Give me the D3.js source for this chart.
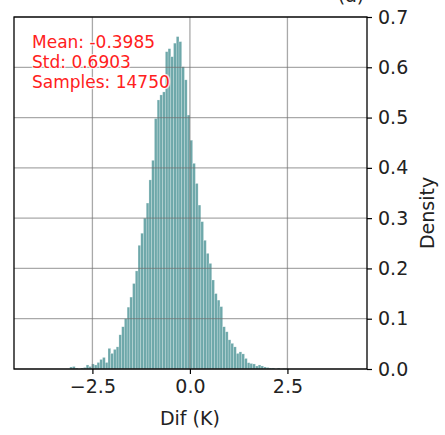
<!DOCTYPE html>
<html>
<head>
<meta charset="utf-8">
<style>
  body { margin: 0; background: #fff; }
  text { font-family: "DejaVu Sans", sans-serif; }
</style>
</head>
<body>
<svg width="445" height="435"></svg>
<script src="https://d3js.org/d3.v7.min.js"></script>
<script>
    // histogram bins (left edge of first bin, width) and densities
    var binStart = -3.08;
    var binWidth = 0.07;
    var densities = [
        0.004, 0.005, 0.002, 0.000, 0.002, 0.003, 0.008, 0.005, 0.010, 0.008,
        0.013, 0.019, 0.023, 0.013, 0.041, 0.031, 0.039, 0.044, 0.068, 0.084,
        0.100, 0.123, 0.143, 0.170, 0.195, 0.246, 0.270, 0.300, 0.330, 0.376,
        0.415, 0.498, 0.535, 0.545, 0.551, 0.631, 0.637, 0.621, 0.648, 0.661,
        0.651, 0.601, 0.575, 0.505, 0.455, 0.409, 0.369, 0.326, 0.293, 0.256,
        0.230, 0.210, 0.177, 0.150, 0.137, 0.124, 0.084, 0.074, 0.058, 0.051,
        0.044, 0.031, 0.034, 0.030, 0.021, 0.0125, 0.011, 0.010, 0.006, 0.008,
        0.006, 0.004, 0.003, 0.002, 0.002, 0.000, 0.002, 0.000, 0.001, 0.001
    ];
    var xTicks = [-2.5, 0, 2.5];
    var yTicks = [0, 0.1, 0.2, 0.3, 0.4, 0.5, 0.6, 0.7];
    var statLines = ["Mean: -0.3985", "Std: 0.6903", "Samples: 14750"];

    var svg = d3.select("svg"),
        margin = {top: 17, right: 78, bottom: 66, left: 14},
        width = +svg.attr("width") - margin.left - margin.right,
        height = +svg.attr("height") - margin.top - margin.bottom;

    var bins = densities.map(function (d, i) {
        return {x0: binStart + i * binWidth, x1: binStart + (i + 1) * binWidth, density: d};
    });

    var x = d3.scaleLinear().domain([-4.51, 4.54]).range([0, width]);
    var y = d3.scaleLinear().domain([0, 0.7]).range([height, 0]);

    var g = svg.append("g").attr("transform", "translate(" + margin.left + "," + margin.top + ")");

    // bars
    g.selectAll("rect.bar")
        .data(bins)
        .enter().append("rect")
        .attr("class", "bar")
        .attr("x", function (d) { return x(d.x0); })
        .attr("y", function (d) { return y(d.density); })
        .attr("width", function (d) { return x(d.x1) - x(d.x0); })
        .attr("height", function (d) { return y(0) - y(d.density); })
        .attr("fill", "#5a9c9e")
        .attr("fill-opacity", 0.88)
        .attr("stroke", "#ffffff")
        .attr("stroke-opacity", 0.45)
        .attr("stroke-width", 0.5);

    // grid on top
    g.selectAll("line.vgrid")
        .data(xTicks)
        .enter().append("line")
        .attr("class", "vgrid")
        .attr("x1", function (d) { return x(d); })
        .attr("x2", function (d) { return x(d); })
        .attr("y1", 0)
        .attr("y2", height)
        .attr("stroke", "#707070")
        .attr("stroke-opacity", 0.6)
        .attr("stroke-width", 1.3);

    g.selectAll("line.hgrid")
        .data(yTicks)
        .enter().append("line")
        .attr("class", "hgrid")
        .attr("x1", 0)
        .attr("x2", width)
        .attr("y1", function (d) { return y(d); })
        .attr("y2", function (d) { return y(d); })
        .attr("stroke", "#707070")
        .attr("stroke-opacity", 0.6)
        .attr("stroke-width", 1.3);

    // axes
    var xAxis = g.append("g")
        .attr("transform", "translate(0," + height + ")")
        .call(d3.axisBottom(x).tickValues(xTicks).tickSize(5).tickPadding(6)
            .tickFormat(function (d) { return d3.format(".1f")(d).replace("-", "\u2212"); }));
    xAxis.select(".domain").remove();
    xAxis.selectAll("line").attr("stroke", "#000").attr("stroke-width", 1.2);
    xAxis.selectAll("text").attr("font-size", 19).attr("fill", "#222")
        .attr("font-family", "DejaVu Sans");

    var yAxis = g.append("g")
        .attr("transform", "translate(" + width + ",0)")
        .call(d3.axisRight(y).tickValues(yTicks).tickSize(5).tickPadding(6)
            .tickFormat(d3.format(".1f")));
    yAxis.select(".domain").remove();
    yAxis.selectAll("line").attr("stroke", "#000").attr("stroke-width", 1.2);
    yAxis.selectAll("text").attr("font-size", 19).attr("fill", "#222")
        .attr("font-family", "DejaVu Sans");

    // frame
    g.append("rect")
        .attr("width", width)
        .attr("height", height)
        .attr("fill", "none")
        .attr("stroke", "#000")
        .attr("stroke-width", 1.3);

    // labels
    svg.append("text")
        .attr("x", margin.left + x(0))
        .attr("y", 425)
        .attr("text-anchor", "middle")
        .attr("font-size", 19)
        .attr("fill", "#222")
        .text("Dif (K)");

    svg.append("text")
        .attr("transform", "translate(434," + (margin.top + height / 2 + 20) + ") rotate(-90)")
        .attr("text-anchor", "middle")
        .attr("font-size", 19)
        .attr("fill", "#222")
        .text("Density");

    // panel letter, mostly above the top edge as in the reference
    svg.append("text")
        .attr("x", 351)
        .attr("y", 2)
        .attr("text-anchor", "middle")
        .attr("font-size", 19)
        .attr("fill", "#222")
        .text("(a)");

    // stats text with white halo
    g.selectAll("text.stat")
        .data(statLines)
        .enter().append("text")
        .attr("class", "stat")
        .attr("x", 18)
        .attr("y", function (d, i) { return 31 + i * 20; })
        .attr("font-size", 17)
        .attr("fill", "#ff2020")
        .attr("stroke", "#ffffff")
        .attr("stroke-width", 2.5)
        .attr("stroke-opacity", 0.8)
        .attr("paint-order", "stroke")
        .text(function (d) { return d; });
</script>
</body>
</html>
